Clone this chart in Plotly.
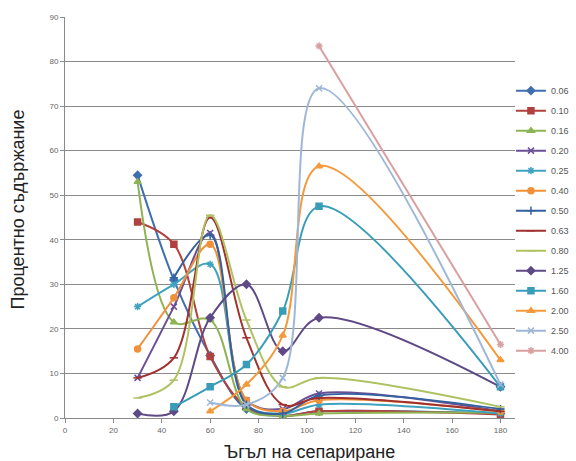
import plotly.graph_objects as go

angles = [30, 45, 60, 75, 90, 105, 180]

names = ["0.06", "0.10", "0.16", "0.20", "0.25", "0.40", "0.50",
         "0.63", "0.80", "1.25", "1.60", "2.00", "2.50", "4.00"]

v006 = [54.5, 31.0, 14.0, 2.0, 0.5, 1.5, 1.0]
v010 = [44.0, 39.0, 13.8, 2.5, 0.5, 1.5, 0.8]
v016 = [53.0, 21.5, 22.0, 2.0, 0.5, 1.0, 1.2]
v020 = [9.0, 25.0, 41.5, 4.0, 2.0, 5.5, 1.5]
v025 = [25.0, 30.0, 34.5, 3.0, 1.0, 3.0, 1.0]
v040 = [15.5, 27.0, 39.0, 4.0, 1.5, 4.0, 1.5]
v050 = [None, 31.5, 41.0, 3.0, 1.0, 5.0, 2.0]
v063 = [9.0, 13.5, 45.0, 18.0, 3.0, 4.5, 1.5]
v080 = [4.5, 8.5, 45.5, 22.0, 7.0, 9.0, 2.5]
v125 = [1.0, 1.5, 22.5, 30.0, 15.0, 22.5, 7.0]
v160 = [None, 2.5, 7.0, 12.0, 24.0, 47.5, 7.0]
v200 = [None, None, 1.5, 7.5, 18.5, 56.5, 13.0]
v250 = [None, None, 3.5, 3.0, 9.0, 74.0, 7.5]
v400 = [None, None, None, None, None, 83.5, 16.5]

series = [v006, v010, v016, v020, v025, v040, v050,
          v063, v080, v125, v160, v200, v250, v400]

colors = ["#3F6FB0", "#B0413E", "#8DB352", "#6B4F96", "#3FA3C0", "#F0913A",
          "#33629E", "#A0312E", "#AFC262", "#5E4A86", "#3A9DB8", "#F39A3C",
          "#9FB7D6", "#D9A0A0"]
symbols = ["diamond", "square", "triangle-up", "x-thin-open", "asterisk-open",
           "circle", "cross-thin-open", "line-ew-open", "line-ew-open",
           "diamond", "square", "triangle-up", "x-thin-open", "asterisk-open"]

fig = go.Figure()
for i, (nm, vals) in enumerate(zip(names, series)):
    fig.add_trace(go.Scatter(
        x=angles, y=vals, name=nm, mode="lines+markers",
        legendgroup=nm,
        line=dict(color=colors[i], width=2, shape="spline", smoothing=1.0),
        marker=dict(symbol=symbols[i], size=6, color=colors[i],
                    line=dict(color=colors[i], width=1.5)),
        connectgaps=False,
    ))

fig.update_layout(
    width=576, height=461,
    margin=dict(l=65, r=61, t=17, b=43, autoexpand=False),
    paper_bgcolor="white", plot_bgcolor="white",
    font=dict(family="Liberation Sans, Arial, sans-serif", color="#555"),
    showlegend=True,
    legend=dict(x=0.991, xanchor="left", y=0.8525, yanchor="top",
                font=dict(size=9, color="#555"), tracegroupgap=1,
                bgcolor="rgba(0,0,0,0)"),
    xaxis=dict(range=[0, 186], tickmode="array",
               tickvals=[0, 20, 40, 60, 80, 100, 120, 140, 160, 180],
               showgrid=False, zeroline=False, showline=True,
               linecolor="#8a8a8a", ticks="outside", ticklen=4,
               tickcolor="#8a8a8a", tickfont=dict(size=8, color="#666")),
    yaxis=dict(range=[0, 90], tickmode="array",
               tickvals=[0, 10, 20, 30, 40, 50, 60, 70, 80, 90],
               showgrid=True, gridcolor="#8a8a8a", gridwidth=1,
               zeroline=False, showline=True, linecolor="#8a8a8a",
               ticks="outside", ticklen=4, tickcolor="#8a8a8a",
               tickfont=dict(size=8, color="#666")),
    annotations=[
        dict(text="Ъгъл на сепариране", xref="paper", yref="paper",
             x=(309 - 65) / 450, y=-0.085, xanchor="center", yanchor="middle",
             showarrow=False, font=dict(size=18, color="#222")),
        dict(text="Процентно съдържание", xref="paper", yref="paper",
             x=-0.105, y=(418.3 - 210) / 401, xanchor="center", yanchor="middle",
             textangle=-90, showarrow=False, font=dict(size=18, color="#222")),
    ],
)

fig.write_html("out.html")
